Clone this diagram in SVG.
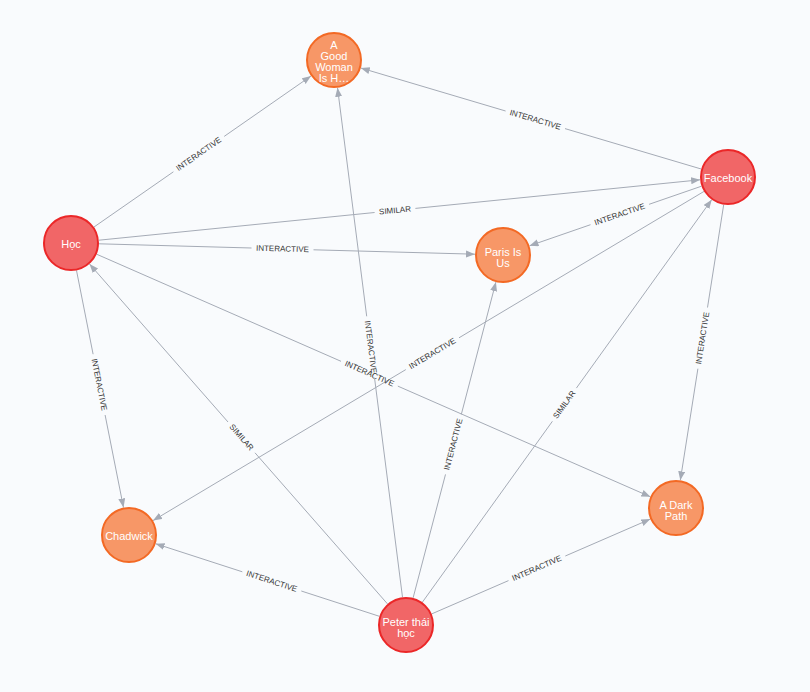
<svg xmlns="http://www.w3.org/2000/svg" width="810" height="692" viewBox="0 0 810 692">
<defs>
<marker id="arr" markerUnits="userSpaceOnUse" markerWidth="10" markerHeight="8" refX="9" refY="3.5" orient="auto">
<path d="M0,0 L9,3.5 L0,7 z" fill="#a5abb6"/>
</marker>
<style>
.e{fill:none;stroke:#a5abb6;stroke-width:1;marker-end:url(#arr)}
.el{font-family:"Liberation Sans",Arial,sans-serif;font-size:8px;fill:#333;text-anchor:middle;dominant-baseline:central}
.red{fill:#f16667;stroke:#eb2728;stroke-width:2}
.org{fill:#f79767;stroke:#f36924;stroke-width:2}
.nt{font-family:"Liberation Sans",Arial,sans-serif;font-size:11px;fill:#fff;text-anchor:middle}
</style>
</defs>
<rect width="810" height="692" fill="#f9fbfd"/>
<g id="edges">
<path class="e" d="M94.0,227.0 L173.4,171.8 M224.2,136.4 L311.0,76.0"/>
<text class="el" transform="translate(198.8,154.1) rotate(-34.8)">INTERACTIVE</text>
<path class="e" d="M701.2,169.0 L565.0,128.6 M505.6,111.0 L360.8,68.0"/>
<text class="el" transform="translate(535.3,119.8) rotate(16.5)">INTERACTIVE</text>
<path class="e" d="M98.9,240.2 L374.6,212.5 M415.4,208.4 L700.1,179.8"/>
<text class="el" transform="translate(395.0,210.5) rotate(-5.7)">SIMILAR</text>
<path class="e" d="M99.0,243.8 L251.5,248.0 M313.5,249.8 L475.0,254.2"/>
<text class="el" transform="translate(282.5,248.9) rotate(1.6)">INTERACTIVE</text>
<path class="e" d="M701.5,186.2 L649.1,204.3 M590.5,224.7 L529.5,245.8"/>
<text class="el" transform="translate(619.8,214.5) rotate(-19.1)">INTERACTIVE</text>
<path class="e" d="M704.0,191.4 L459.0,337.8 M405.8,369.6 L153.0,520.6"/>
<text class="el" transform="translate(432.4,353.7) rotate(-30.9)">INTERACTIVE</text>
<path class="e" d="M96.6,254.2 L341.0,361.3 M397.8,386.1 L650.4,496.8"/>
<text class="el" transform="translate(369.4,373.7) rotate(23.65)">INTERACTIVE</text>
<path class="e" d="M723.7,204.7 L707.5,307.5 M697.9,368.7 L680.3,480.3"/>
<text class="el" transform="translate(702.7,338.1) rotate(-81.1)">INTERACTIVE</text>
<path class="e" d="M76.5,270.5 L93.1,354.2 M105.1,415.0 L123.5,507.5"/>
<text class="el" transform="translate(99.1,384.6) rotate(78.8)">INTERACTIVE</text>
<path class="e" d="M387.5,603.9 L255.0,452.8 M228.0,422.0 L89.5,264.0"/>
<text class="el" transform="translate(241.5,437.4) rotate(48.7)">SIMILAR</text>
<path class="e" d="M402.5,597.2 L374.5,377.7 M366.7,316.3 L337.5,87.8"/>
<text class="el" transform="translate(370.6,347.0) rotate(82.7)">INTERACTIVE</text>
<path class="e" d="M413.1,597.9 L445.5,474.4 M461.3,414.4 L495.9,282.1"/>
<text class="el" transform="translate(453.4,444.4) rotate(-75.3)">INTERACTIVE</text>
<path class="e" d="M422.3,602.3 L552.4,421.3 M576.4,388.1 L711.7,199.7"/>
<text class="el" transform="translate(564.4,404.7) rotate(-54.3)">SIMILAR</text>
<path class="e" d="M379.4,616.3 L301.3,591.0 M242.3,571.8 L155.6,543.7"/>
<text class="el" transform="translate(271.8,581.4) rotate(18.0)">INTERACTIVE</text>
<path class="e" d="M431.7,613.9 L508.5,580.6 M565.3,556.0 L650.3,519.1"/>
<text class="el" transform="translate(536.9,568.3) rotate(-23.4)">INTERACTIVE</text>
</g>
<g id="node-agw">
<circle class="org" cx="334" cy="60" r="27"/>
<text class="nt" x="334" y="49.3">A</text>
<text class="nt" x="334" y="60.3">Good</text>
<text class="nt" x="334" y="71.3">Woman</text>
<text class="nt" x="334" y="82.3">Is H…</text>
</g>
<g id="node-facebook">
<circle class="red" cx="728" cy="177" r="27"/>
<text class="nt" x="728" y="181.5">Facebook</text>
</g>
<g id="node-hoc">
<circle class="red" cx="71" cy="243" r="27"/>
<text class="nt" x="71" y="247.5">Học</text>
</g>
<g id="node-paris">
<circle class="org" cx="503" cy="255" r="27"/>
<text class="nt" x="503" y="256">Paris Is</text>
<text class="nt" x="503" y="267">Us</text>
</g>
<g id="node-chadwick">
<circle class="org" cx="129" cy="535" r="27"/>
<text class="nt" x="129" y="540">Chadwick</text>
</g>
<g id="node-darkpath">
<circle class="org" cx="676" cy="508" r="27"/>
<text class="nt" x="676" y="509">A Dark</text>
<text class="nt" x="676" y="520">Path</text>
</g>
<g id="node-peter">
<circle class="red" cx="406" cy="625" r="27"/>
<text class="nt" x="406" y="626">Peter thái</text>
<text class="nt" x="406" y="637">học</text>
</g>
</svg>
